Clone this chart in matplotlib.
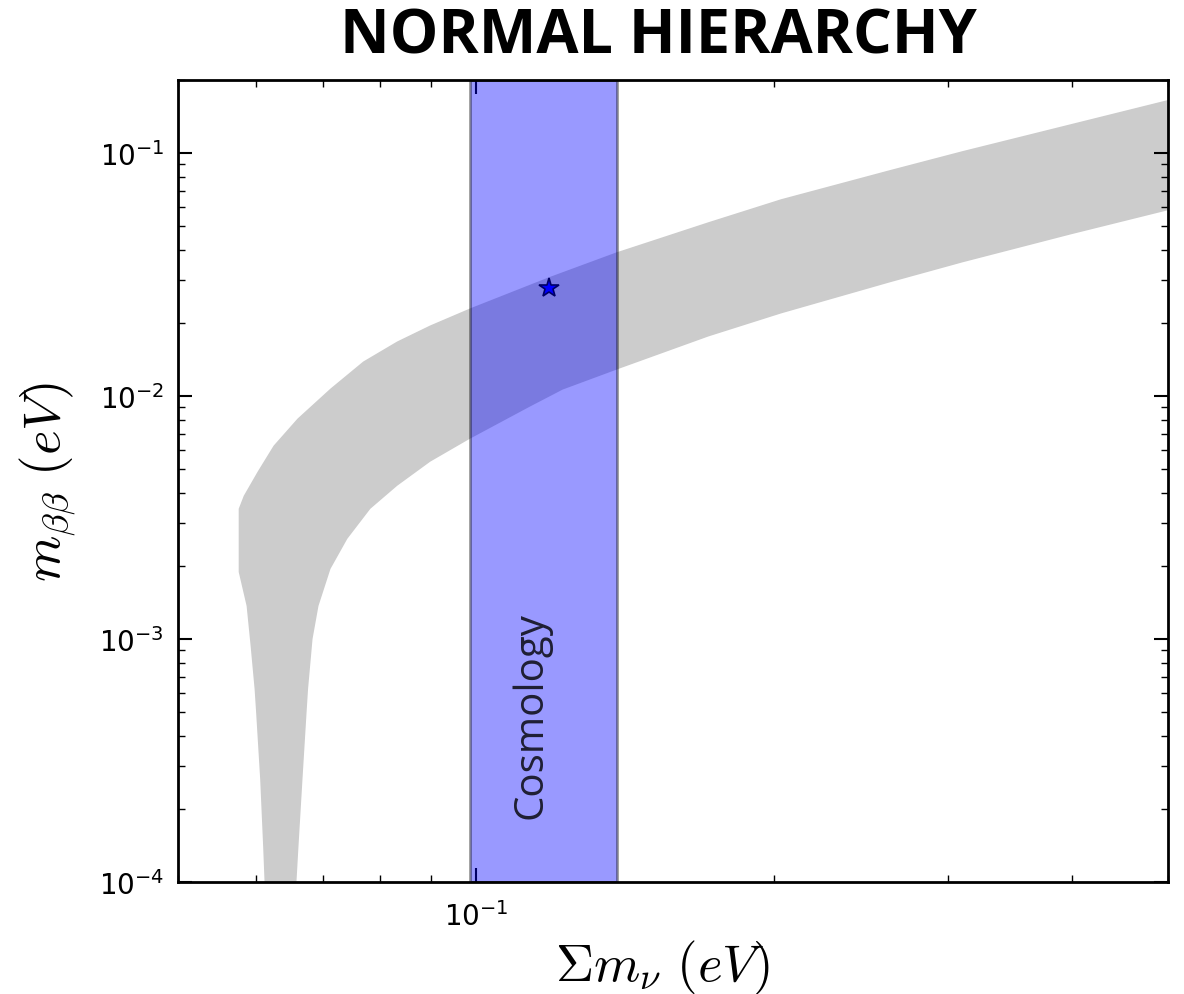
import matplotlib
matplotlib.use("Agg")
import matplotlib.pyplot as plt
from matplotlib.ticker import NullFormatter

plt.rcParams['mathtext.fontset'] = 'cm'

# Allowed region for m_bb vs sum of neutrino masses (normal ordering)
# Upper edge, left to right (starting at the lower corner of the left wall)
upper_sum = [0.05758, 0.05758, 0.05826, 0.06017, 0.06245, 0.06602, 0.07128, 0.07693,
             0.08325, 0.08989, 0.09862, 0.11844, 0.13868, 0.17165, 0.20330, 0.26174,
             0.31003, 0.39921, 0.5]
upper_mbb = [0.001889, 0.003436, 0.003887, 0.004884, 0.006250, 0.008076, 0.010737, 0.013877,
             0.016782, 0.019533, 0.02295, 0.03081, 0.03906, 0.05194, 0.06461, 0.08509,
             0.10192, 0.13170, 0.16545]

# Lower edge, right to left, running down into the cancellation dip and back up
lower_sum = [0.5, 0.39921, 0.31003, 0.26174, 0.20330, 0.17165, 0.13868, 0.12232,
             0.11334, 0.09862, 0.08989, 0.08325, 0.07821, 0.07413, 0.07128, 0.06932,
             0.06837, 0.06766, 0.06743, 0.06679, 0.06617, 0.06586, 0.0658,
             0.0612, 0.06115, 0.06095, 0.06053, 0.05996, 0.05975, 0.05920, 0.05865]
lower_mbb = [0.058198, 0.046345, 0.035521, 0.029376, 0.021888, 0.017592, 0.012857, 0.010637,
             0.009052, 0.006681, 0.005369, 0.004274, 0.003436, 0.002585, 0.001943, 0.001368,
             0.001, 0.000622, 0.0005, 0.000265, 0.00014, 0.0001, 0.00005,
             0.00005, 0.0001, 0.00014, 0.000265, 0.0005, 0.000622, 0.000936, 0.001368]

# Cosmological bound on the mass sum and best-fit point
cosmo_range = (0.0986, 0.1387)
star_sum = [0.1184]
star_mbb = [0.0278]

fig = plt.figure(figsize=(11.84, 9.95), dpi=100)
ax = fig.add_axes([178 / 1184, 112 / 995, 990 / 1184, 802 / 995])

ax.fill(upper_sum + lower_sum, upper_mbb + lower_mbb,
        facecolor='#cccccc', edgecolor='none', zorder=1)
ax.axvspan(*cosmo_range, facecolor='b', edgecolor='k', alpha=0.4, lw=2, zorder=2)
ax.plot(star_sum, star_mbb, marker='*', color='b', markeredgecolor='#000066',
        markersize=15, markeredgewidth=1.2, linestyle='none', zorder=4)

ax.text(0.1136, 4.9e-4, 'Cosmology', rotation=90, ha='center', va='center',
        fontsize=29, family='Open Sans', color='k', alpha=0.8, zorder=3)

ax.set_xscale('log')
ax.set_yscale('log')
ax.set_xlim(0.05, 0.5)
ax.set_ylim(1e-4, 0.2)
ax.xaxis.set_minor_formatter(NullFormatter())
ax.yaxis.set_minor_formatter(NullFormatter())

ax.tick_params(which='both', direction='in', top=True, right=True)
ax.tick_params(which='major', length=10, width=1.5, labelsize=20, pad=10)
ax.tick_params(axis='x', which='major', pad=14)
ax.tick_params(which='minor', length=5, width=1)
for s in ax.spines.values():
    s.set_linewidth(2)

ax.set_xlabel(r'$\Sigma m_\nu\ (eV)$', fontsize=38)
ax.set_ylabel(r'$m_{\beta\beta}\ (eV)$', fontsize=38)
ax.xaxis.set_label_coords((662 - 178) / 990, -0.070)
ax.yaxis.set_label_coords(-0.10, 0.5)

fig.text(658 / 1184, 1 - 38 / 995, 'NORMAL HIERARCHY', ha='center', va='center',
         fontsize=44, fontweight='bold', family='Open Sans')

fig.savefig('out.png', dpi=100)
